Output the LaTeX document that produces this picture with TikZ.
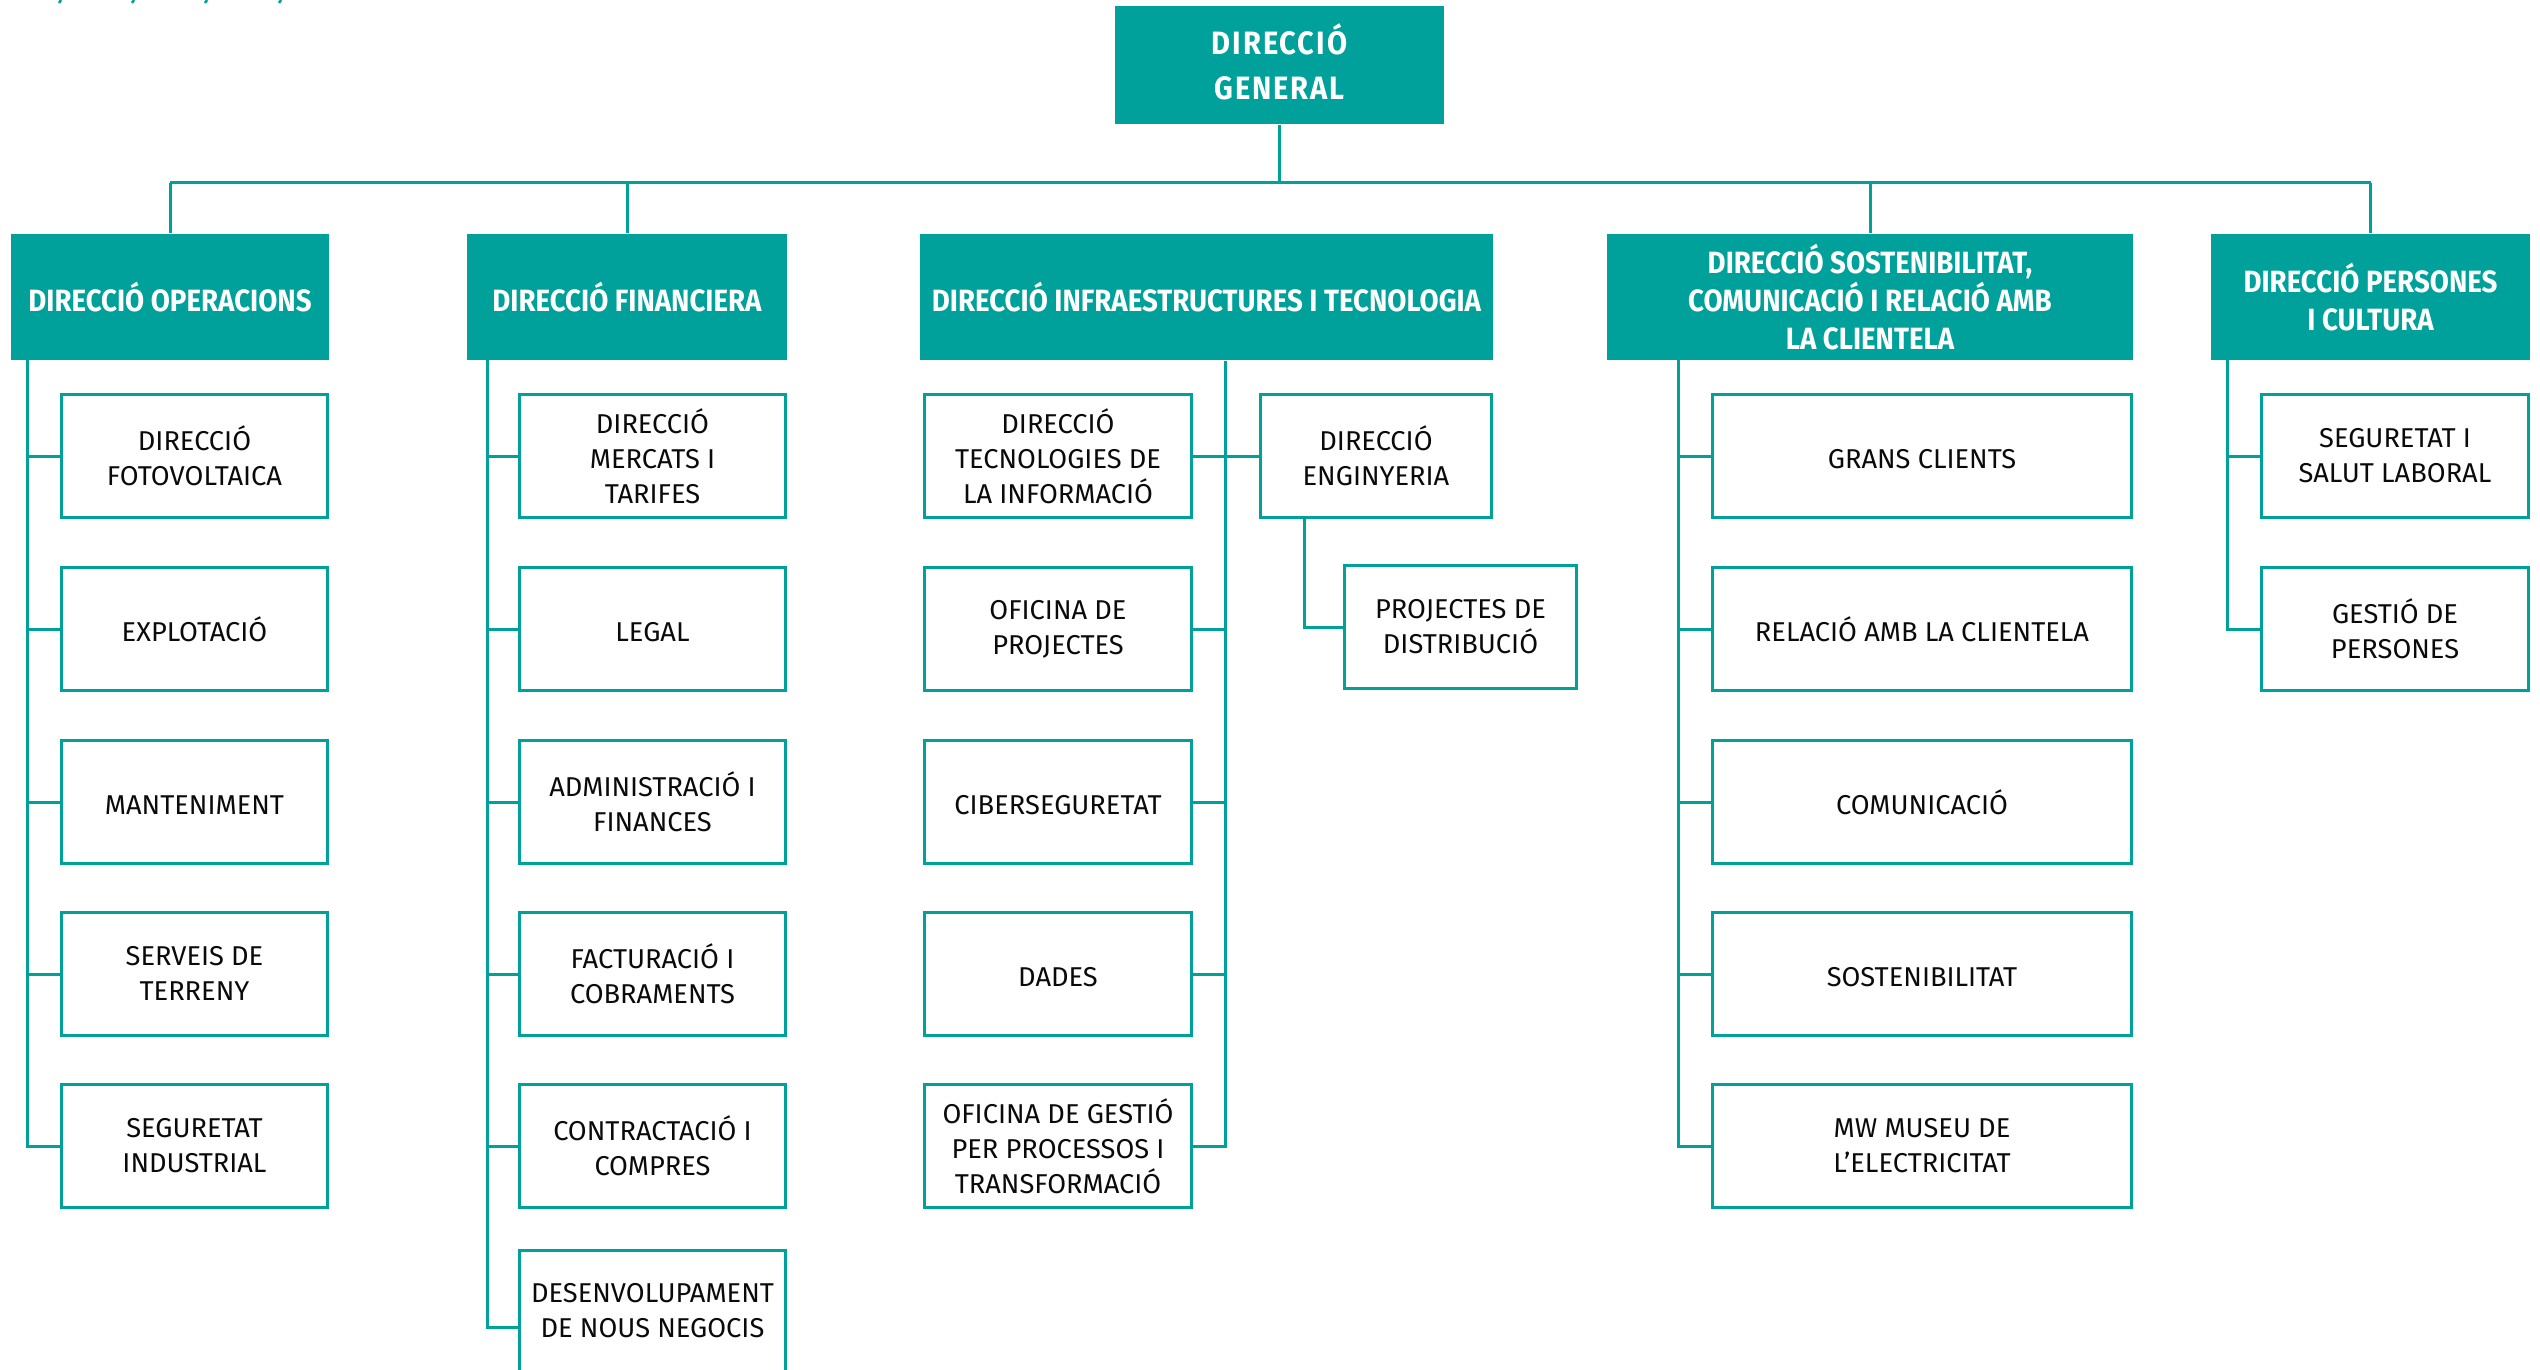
\documentclass[tikz,border=0pt]{standalone}
\usepackage{fontspec}
\setmainfont{Fira Sans}
\newfontfamily\hdrfont[FakeStretch=0.9]{Fira Sans}
\definecolor{teal1}{RGB}{0,161,154}
\definecolor{ink}{RGB}{10,10,10}
\begin{document}
\begin{tikzpicture}[x=0.1mm,y=-0.1mm,
  conn/.style={draw=teal1, line width=0.3mm},
  hdr/.style={fill=teal1, text=white, font=\hdrfont\bfseries\fontsize{8.75}{10.9}\selectfont, align=center, inner sep=0pt, minimum height=12.6mm},
  sub/.style={draw=teal1, line width=0.3mm, fill=white, text=ink, font=\fontsize{7.75}{10}\selectfont, align=center, inner sep=0pt, minimum height=12.3mm, execute at begin node={\vphantom{Ó}}},
  subtext/.style={text=ink, font=\fontsize{7.75}{10}\selectfont, align=center, inner sep=0pt, execute at begin node={\vphantom{Ó}}},
]
\useasboundingbox (0,0) rectangle (2540,1370);
% tiny marks at top-left edge
\foreach \mx in {60,133,206,280} \draw[teal1, line width=0.25mm] (\mx+1,0) -- (\mx-1,3);

% top
\node[hdr, minimum width=32.9mm, minimum height=11.8mm, execute at end node={\vphantom{g}}, font=\hdrfont\bfseries\fontsize{9.2}{12.8}\selectfont\addfontfeature{LetterSpace=6}] (top) at (1279.5,65) {DIRECCIÓ\\GENERAL};

% level 2
\node[hdr, minimum width=31.8mm] (ops) at (170,297) {DIRECCIÓ OPERACIONS};
\node[hdr, minimum width=32.0mm] (fin) at (627,297) {DIRECCIÓ FINANCIERA};
\node[hdr, minimum width=57.3mm] (inf) at (1206.5,297) {DIRECCIÓ INFRAESTRUCTURES I TECNOLOGIA};
\node[hdr, minimum width=52.6mm] (sost) at (1870,297) {DIRECCIÓ SOSTENIBILITAT,\\COMUNICACIÓ I RELACIÓ AMB\\LA CLIENTELA};
\node[hdr, minimum width=31.9mm] (pers) at (2370.5,297) {DIRECCIÓ PERSONES\\I CULTURA};

% bus
\coordinate (bus) at (0,183);
\coordinate (infS) at (1225,183);
\draw[conn] (top.south) -- (top.south |- bus);
\draw[conn] (ops.north |- bus) -- (pers.north |- bus);
\foreach \n in {ops,fin,sost,pers} \draw[conn] (\n.north) -- (\n.north |- bus);

% spines
\coordinate (opsS) at (27,360);
\coordinate (finS) at (487,360);
\coordinate (sostS) at (1678,360);
\coordinate (persS) at (2227,360);
\coordinate (engS) at (1304,0);

% ops column
\foreach \i/\yy/\t in {1/456/{DIRECCIÓ\\FOTOVOLTAICA},2/629/{EXPLOTACIÓ},3/802/{MANTENIMENT},4/974/{SERVEIS DE\\TERRENY},5/1146/{SEGURETAT\\INDUSTRIAL}}
  \node[sub, minimum width=26.6mm] (ops\i) at (194.5,\yy) {\t};
% fin column
\foreach \i/\yy/\t in {1/456/{DIRECCIÓ\\MERCATS I\\TARIFES},2/629/{LEGAL},3/802/{ADMINISTRACIÓ I\\FINANCES},4/974/{FACTURACIÓ I\\COBRAMENTS},5/1146/{CONTRACTACIÓ I\\COMPRES}}
  \node[sub, minimum width=26.6mm] (fin\i) at (652.5,\yy) {\t};
\node[sub, minimum width=26.6mm, minimum height=15.4mm] (fin6) at (652.5,1327) {};
\node[subtext] (fin6t) at (652.5,1311) {DESENVOLUPAMENT\\DE NOUS NEGOCIS};
% infra column
\foreach \i/\yy/\t in {1/456/{DIRECCIÓ\\TECNOLOGIES DE\\LA INFORMACIÓ},2/629/{OFICINA DE\\PROJECTES},3/802/{CIBERSEGURETAT},4/974/{DADES},5/1146/{OFICINA DE GESTIÓ\\PER PROCESSOS I\\TRANSFORMACIÓ}}
  \node[sub, minimum width=26.7mm] (inf\i) at (1058,\yy) {\t};
\node[sub, minimum width=23.1mm] (eng) at (1376,456) {DIRECCIÓ\\ENGINYERIA};
\node[sub, minimum width=23.2mm] (projd) at (1460.5,627) {PROJECTES DE\\DISTRIBUCIÓ};
% sost column
\foreach \i/\yy/\t in {1/456/{GRANS CLIENTS},2/629/{RELACIÓ AMB LA CLIENTELA},3/802/{COMUNICACIÓ},4/974/{SOSTENIBILITAT},5/1146/{MW MUSEU DE\\L’ELECTRICITAT}}
  \node[sub, minimum width=41.9mm] (sost\i) at (1922,\yy) {\t};
% pers column
\foreach \i/\yy/\t in {1/456/{SEGURETAT I\\SALUT LABORAL},2/629/{GESTIÓ DE\\PERSONES}}
  \node[sub, minimum width=26.7mm] (pers\i) at (2395,\yy) {\t};

% connectors
\draw[conn] (opsS) |- (ops5.west);
\foreach \i in {1,...,4} \draw[conn] (ops\i.west) -- (ops\i.west -| opsS);
\draw[conn] (finS) |- (fin6.west);
\foreach \i in {1,...,5} \draw[conn] (fin\i.west) -- (fin\i.west -| finS);
\draw[conn] (infS |- inf.south) -- (infS |- inf5.east) -- (inf5.east);
\foreach \i in {1,...,4} \draw[conn] (inf\i.east) -- (inf\i.east -| infS);
\draw[conn] (eng.west) -- (eng.west -| infS);
\draw[conn] (eng.south -| engS) |- (projd.west);
\draw[conn] (sostS) |- (sost5.west);
\foreach \i in {1,...,4} \draw[conn] (sost\i.west) -- (sost\i.west -| sostS);
\draw[conn] (persS) |- (pers2.west);
\draw[conn] (pers1.west) -- (pers1.west -| persS);
\end{tikzpicture}
\end{document}
